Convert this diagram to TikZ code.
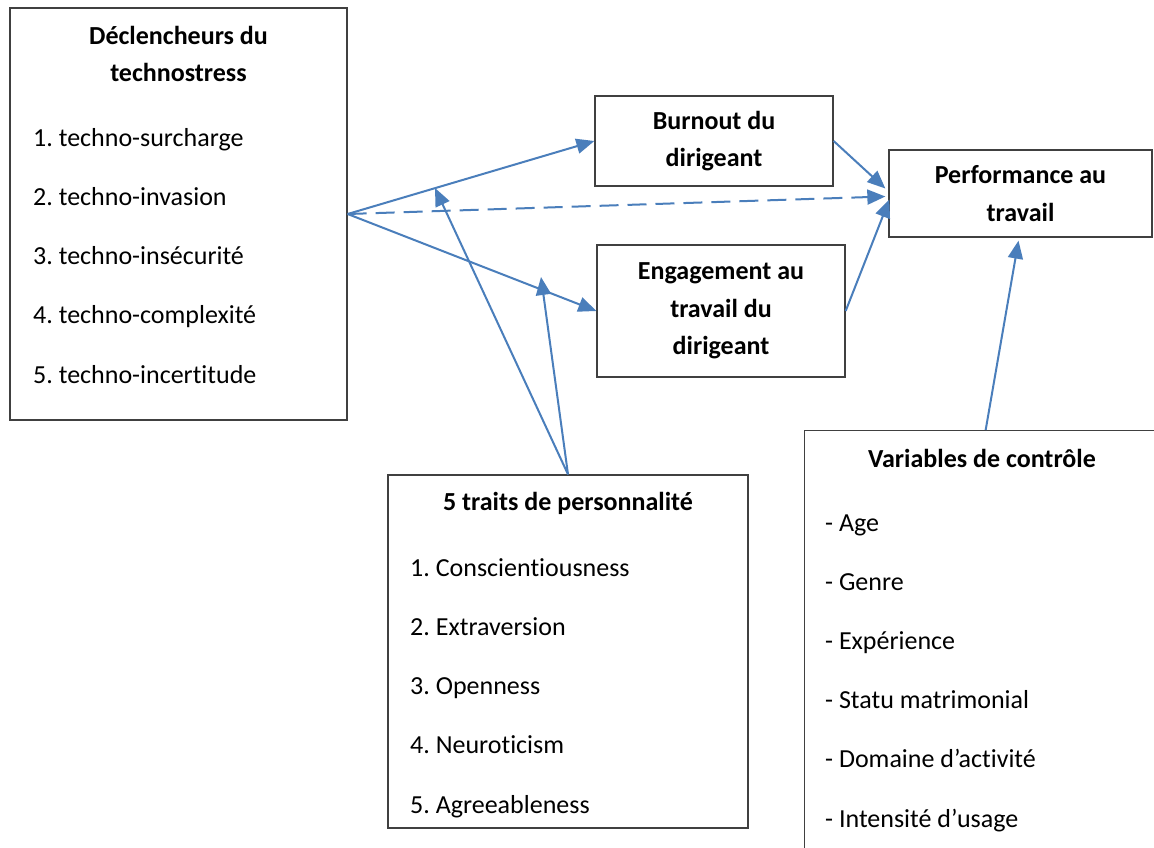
\documentclass[tikz,border=0pt]{standalone}
\usepackage{fontspec}
\setmainfont{Carlito}[Ligatures={NoCommon}]
\usetikzlibrary{arrows.meta,calc}
\definecolor{fleche}{HTML}{4A7EBB}
\definecolor{cadre}{HTML}{404040}
\tikzset{
  boite/.style={draw=cadre, line width=1.3pt, rectangle, inner sep=0pt},
  titre/.style={font=\fontsize{26}{37.5}\selectfont\bfseries, align=center},
  item/.style={font=\fontsize{26}{30}\selectfont, anchor=base west, inner sep=0pt},
  lien/.style={draw=fleche, line width=2pt, -{Triangle[length=18pt,width=15pt]}},
}
\frenchspacing
\begin{document}
\begin{tikzpicture}[x=1pt,y=-1pt]
\clip (0,0) rectangle (1154,847);
\fill[white] (0,0) rectangle (1154,847);
% Déclencheurs
\node[boite, minimum width=337pt, minimum height=412pt] (decl) at (178.5,214) {};
\node[titre] (decltitre) at (178.5,54) {Déclencheurs du\\technostress};
\foreach \t [count=\i] in {techno-surcharge, techno-invasion, techno-insécurité, techno-complexité, techno-incertitude}
  \node[item] (decl\i) at (33,{146+59.3*(\i-1)}) {\i. \t};
% Médiateurs
\node[boite, titre, minimum width=238pt, minimum height=90pt] (burnout) at (714,141) {Burnout du\\dirigeant};
\node[boite, titre, minimum width=248pt, minimum height=132pt] (engag) at (721,311) {Engagement au\\travail du\\dirigeant};
% Performance
\node[boite, titre, minimum width=263pt, minimum height=87pt] (perf) at (1020.5,193.5) {Performance au\\travail};
% Traits de personnalité
\node[boite, minimum width=360pt, minimum height=353pt] (traits) at (568,651.5) {};
\node[titre] (traitstitre) at (568,503) {5 traits de personnalité};
\foreach \t [count=\i] in {Conscientiousness, Extraversion, Openness, Neuroticism, Agreeableness}
  \node[item] (traits\i) at (410,{576+59.3*(\i-1)}) {\i. \t};
% Variables de contrôle
\node[boite, anchor=north west, minimum width=362pt, minimum height=440pt] (vars) at (804,430) {};
\node[titre] (varstitre) at (982,458) {Variables de contrôle};
\foreach \t [count=\i] in {Age, Genre, Expérience, Statu matrimonial, Domaine d’activité, Intensité d’usage}
  \node[item] (vars\i) at (825,{531+59.2*(\i-1)}) {- \t};
% Liens
\coordinate (mod1) at (435,188);
\coordinate (mod2) at (541,277);
\draw[lien] (decl.east) -- (burnout.west);
\draw[lien] (decl.east) -- (engag.west);
\draw[lien, dash pattern=on 19pt off 9pt] (decl.east) -- ($(perf.west)+(-3,3)$);
\draw[lien] (burnout.east) -- ($(perf.west)+(-3,-5)$);
\draw[lien] (engag.east) -- ($(perf.west)+(1,6)$);
\draw[lien] (vars.north) -- ($(perf.south)+(-2,3)$);
\draw[lien] (traits.north) -- (mod1);
\draw[lien] (traits.north) -- (mod2);
\end{tikzpicture}
\end{document}
